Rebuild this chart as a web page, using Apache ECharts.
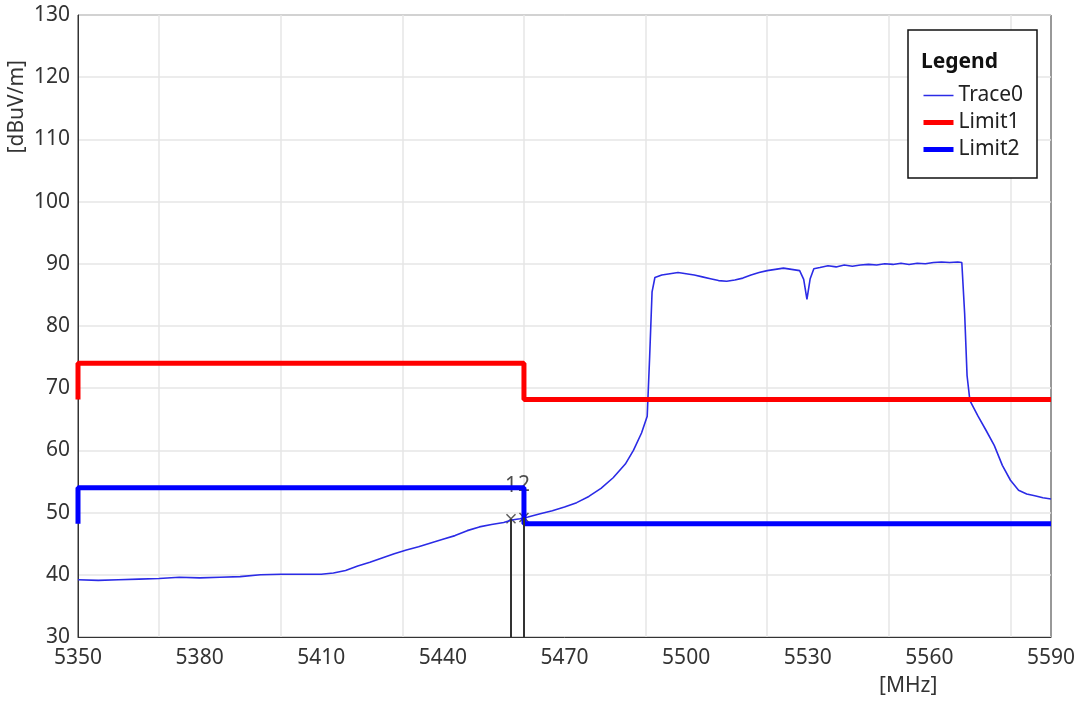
<!DOCTYPE html>
<html>
<head>
<meta charset="utf-8">
<script src="https://cdn.jsdelivr.net/npm/echarts@6/dist/echarts.min.js"></script>
<style>
html, body { margin: 0; padding: 0; background: #fff; }
#chart { width: 1081px; height: 706px; }
</style>
</head>
<body>
<div id="chart"></div>
<script>
// 测量曲线 (MHz / dBuV/m)
var traceFreq = [5350, 5355, 5360, 5365, 5370, 5375, 5380, 5385, 5390, 5395, 5400, 5405, 5410, 5413, 5416, 5419, 5422, 5425, 5428, 5431,
    5434, 5437, 5440, 5443, 5446, 5449, 5452, 5455, 5457, 5459, 5461, 5464, 5467, 5470, 5473, 5476, 5479, 5482, 5485, 5487,
    5489, 5490.4, 5491, 5491.6, 5492.3, 5494, 5496, 5498, 5500, 5502, 5504, 5506, 5508, 5510, 5512, 5514, 5516, 5518, 5520, 5522,
    5524, 5526, 5528, 5529, 5529.8, 5530.6, 5531.5, 5533, 5535, 5537, 5539, 5541, 5543, 5545, 5547, 5549, 5551, 5553, 5555, 5557,
    5559, 5561, 5563, 5565, 5567, 5568, 5568.7, 5569.3, 5570, 5572, 5574, 5576, 5578, 5580, 5582, 5584, 5586, 5588, 5590];
var traceLevel = [39.2, 39.1, 39.2, 39.3, 39.4, 39.6, 39.5, 39.6, 39.7, 40.0, 40.1, 40.1, 40.1, 40.3, 40.7, 41.4, 42.0, 42.7, 43.4, 44.0,
    44.5, 45.1, 45.7, 46.3, 47.1, 47.7, 48.1, 48.4, 48.8, 49.0, 49.3, 49.8, 50.3, 50.9, 51.6, 52.6, 53.9, 55.6, 57.8, 60.0,
    62.8, 65.5, 75.0, 85.5, 87.8, 88.2, 88.4, 88.6, 88.4, 88.2, 87.9, 87.6, 87.3, 87.2, 87.4, 87.7, 88.2, 88.6, 88.9, 89.1,
    89.3, 89.1, 88.9, 87.5, 84.3, 87.6, 89.2, 89.4, 89.7, 89.5, 89.8, 89.6, 89.8, 89.9, 89.8, 90.0, 89.9, 90.1, 89.9, 90.1,
    90.0, 90.2, 90.3, 90.2, 90.3, 90.2, 82.0, 72.0, 68.0, 65.5, 63.2, 60.8, 57.6, 55.2, 53.6, 53.0, 52.7, 52.4, 52.2];

// 限值线
var limit1Freq = [5350, 5350, 5460, 5460, 5590];
var limit1Level = [68.2, 74, 74, 68.2, 68.2];
var limit2Freq = [5350, 5350, 5460, 5460, 5590];
var limit2Level = [48.2, 54, 54, 48.2, 48.2];

// 标记点
var markerNames = ['1', '2'];
var markerFreq = [5456.8, 5460];
var markerLevel = [49.0, 49.2];

// 竖直网格线位置
var gridFreq = [5370, 5400, 5430, 5460, 5490, 5520, 5550, 5580];

var FONT = 'Noto Sans';
var FS = 21;

function pairs(xs, ys) {
    var out = [];
    for (var i = 0; i < xs.length; i++) {
        out.push([xs[i], ys[i]]);
    }
    return out;
}

var chart = echarts.init(document.getElementById('chart'));

var option = {
    animation: false,
    backgroundColor: '#fff',
    textStyle: { fontFamily: FONT },
    grid: {
        left: 78, right: 30, top: 15, bottom: 69,
        show: true, borderColor: '#333', borderWidth: 1, backgroundColor: 'transparent'
    },
    xAxis: {
        type: 'value',
        min: 5350, max: 5590, interval: 30,
        axisLine: { show: true, lineStyle: { color: '#333', width: 1 } },
        axisTick: { show: false },
        splitLine: { show: false },
        axisLabel: {
            color: '#333', fontSize: FS, margin: 11, fontFamily: FONT,
            formatter: function (v) { return String(v); }
        }
    },
    yAxis: {
        type: 'value',
        min: 30, max: 130, interval: 10,
        axisLine: { show: true, lineStyle: { color: '#333', width: 1 } },
        axisTick: { show: false },
        splitLine: { show: true, lineStyle: { color: '#e6e6e6', width: 1.5 } },
        axisLabel: { color: '#333', fontSize: FS, margin: 8, fontFamily: FONT }
    },
    legend: {
        data: [
            { name: 'Trace0', itemStyle: { opacity: 0 }, lineStyle: { width: 1.5 } },
            { name: 'Limit1', itemStyle: { opacity: 0 }, lineStyle: { width: 5 } },
            { name: 'Limit2', itemStyle: { opacity: 0 }, lineStyle: { width: 5 } }
        ],
        orient: 'vertical',
        left: 921, top: 85,
        itemWidth: 30, itemHeight: 14, itemGap: 6,
        padding: 0,
        z: 20,
        textStyle: { color: '#222', fontSize: FS, fontFamily: FONT }
    },
    graphic: [
        {
            type: 'rect', z: 10,
            shape: { x: 908, y: 30, width: 129, height: 148 },
            style: { fill: '#fff', stroke: '#111', lineWidth: 1.5 }
        },
        {
            type: 'text', z: 11, left: 921, top: 52,
            style: { text: 'Legend', font: 'bold ' + FS + 'px "' + FONT + '"', fill: '#111' }
        },
        {
            type: 'text', left: 7, top: 60, rotation: Math.PI / 2,
            style: { text: '[dBuV/m]', font: FS + 'px "' + FONT + '"', fill: '#333' }
        },
        {
            type: 'text', left: 879, top: 676,
            style: { text: '[MHz]', font: FS + 'px "' + FONT + '"', fill: '#333' }
        }
    ],
    series: [
        {
            name: 'grid',
            type: 'line',
            data: [],
            silent: true,
            markLine: {
                silent: true,
                z: 1,
                symbol: 'none',
                label: { show: false },
                lineStyle: { color: '#e6e6e6', width: 1.5, type: 'solid' },
                data: gridFreq.map(function (f) { return { xAxis: f }; })
            }
        },
        {
            name: 'Trace0',
            type: 'line',
            data: pairs(traceFreq, traceLevel),
            showSymbol: false,
            symbol: 'none',
            color: '#2b2be6',
            lineStyle: { color: '#2b2be6', width: 1.6 }
        },
        {
            name: 'Markers',
            type: 'scatter',
            data: markerFreq.map(function (f, i) {
                return { value: [f, markerLevel[i]], name: markerNames[i] };
            }),
            symbol: 'path://M0,0L10,10M10,0L0,10',
            symbolSize: 9,
            itemStyle: { color: 'none', borderColor: '#333', borderWidth: 1.5 },
            label: {
                show: true, position: 'top', distance: 15,
                formatter: '{b}', color: '#222', fontSize: FS, fontFamily: FONT
            },
            markLine: {
                silent: true,
                symbol: 'none',
                label: { show: false },
                lineStyle: { color: '#333', width: 2, type: 'solid' },
                data: markerFreq.map(function (f, i) {
                    return [{ coord: [f, 30] }, { coord: [f, markerLevel[i]] }];
                })
            }
        },
        {
            name: 'Limit1',
            type: 'line',
            data: pairs(limit1Freq, limit1Level),
            showSymbol: false,
            symbol: 'none',
            color: '#ff0000',
            lineStyle: { color: '#ff0000', width: 5 }
        },
        {
            name: 'Limit2',
            type: 'line',
            data: pairs(limit2Freq, limit2Level),
            showSymbol: false,
            symbol: 'none',
            color: '#0000ff',
            lineStyle: { color: '#0000ff', width: 5 }
        }
    ]
};

chart.setOption(option);
</script>
</body>
</html>
